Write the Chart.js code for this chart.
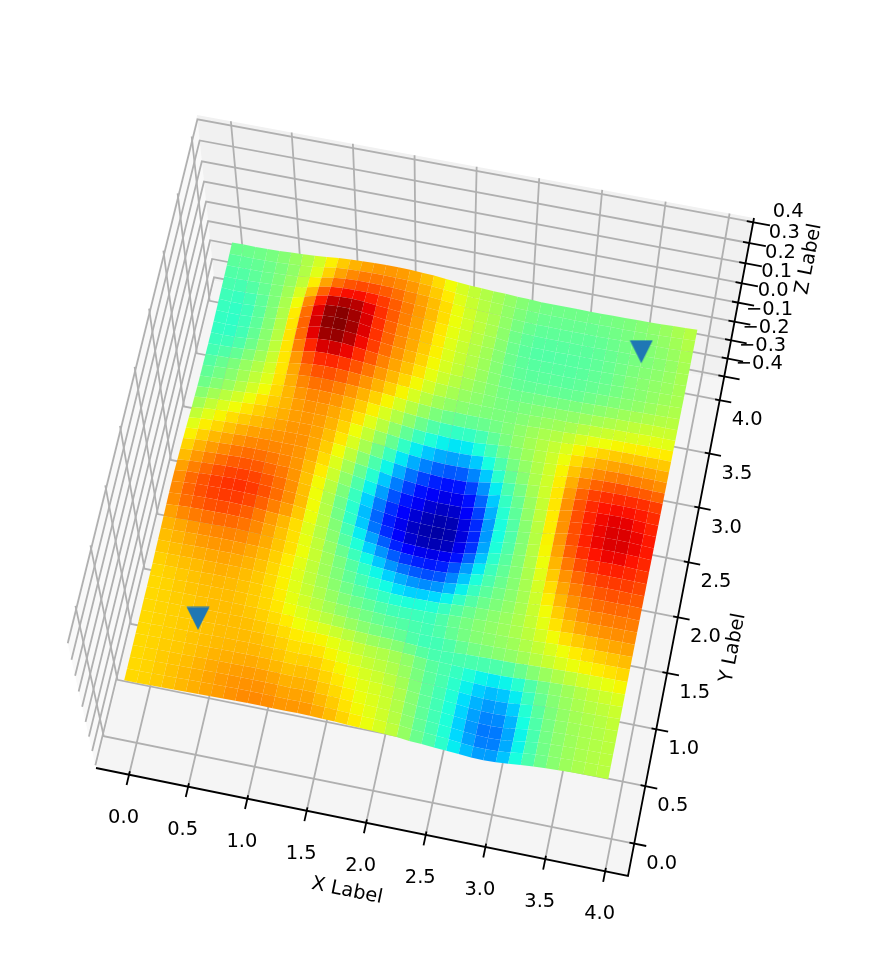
<!DOCTYPE html>
<html><head><meta charset="utf-8">
<style>html,body{margin:0;padding:0;background:#fff}canvas{display:block}</style>
<script src="https://cdn.jsdelivr.net/npm/chart.js@4"></script>
</head><body><canvas id="c" width="880" height="956"></canvas>
<script>
// --- data ---
const xTicks=[0,0.5,1,1.5,2,2.5,3,3.5,4];
const yTicks=[0,0.5,1,1.5,2,2.5,3,3.5,4];
const zTicks=[-0.4,-0.3,-0.2,-0.1,0,0.1,0.2,0.3,0.4];
const gridStep=0.1;
const markerX=[3.485,0.445];
const markerY=[3.635,0.655];
// surface level (0 = bottom of colour range, 100 = top), rows y=0..3.9, columns x=0..3.9
const zLevels=[
[68,68,69,70,71,72,73,74,75,76,77,77,76,75,76,75,73,71,68,65,63,60,57,50,47,43,39,35,31,29,31,36,42,47,50,53,55,56,57,57],
[68,68,69,70,71,72,73,74,75,76,76,76,75,74,75,73,71,69,66,64,62,59,56,49,46,42,37,32,27,25,27,33,41,47,50,53,55,56,57,58],
[68,68,69,70,71,72,73,74,75,75,75,75,74,72,74,72,70,68,65,63,61,58,55,48,45,41,36,30,25,23,25,32,40,47,51,53,55,56,57,58],
[68,68,69,70,70,71,72,73,73,74,74,73,72,71,72,70,68,66,64,62,61,58,55,48,45,41,36,30,25,24,26,33,41,47,51,53,55,56,57,58],
[68,68,69,69,70,71,71,72,72,72,72,71,70,69,71,69,67,65,63,61,60,57,54,48,45,41,36,31,27,26,28,34,42,48,51,54,55,56,57,59],
[68,68,69,69,70,70,71,71,71,72,71,70,69,67,69,67,65,63,61,59,58,55,53,47,45,42,37,33,29,29,31,37,44,49,52,54,56,57,58,60],
[68,68,69,69,70,70,71,71,71,71,70,69,68,66,67,65,63,61,59,57,57,54,52,47,45,43,39,36,33,33,35,40,46,50,53,55,57,58,59,61],
[68,68,69,69,70,71,71,71,71,70,69,68,66,64,65,63,61,59,57,56,55,53,51,46,45,43,41,39,38,38,40,44,48,51,53,56,58,60,62,64],
[68,68,69,70,70,71,71,71,70,69,68,66,64,62,60,58,56,54,52,50,49,47,43,42,42,44,47,48,50,51,52,55,57,59,61,63,64,65,66,67],
[68,68,69,70,71,71,71,71,70,69,67,65,62,60,57,55,53,51,49,48,47,45,43,43,45,47,50,51,52,53,54,57,59,62,64,66,67,68,69,70],
[68,69,70,70,71,72,72,71,70,69,67,64,61,58,55,53,50,49,47,45,44,44,43,43,47,49,51,52,53,54,56,58,61,64,66,68,70,71,72,73],
[69,70,71,72,72,73,73,72,71,69,67,64,60,57,54,51,48,46,44,42,41,41,41,42,46,48,50,52,53,55,57,60,64,68,71,73,74,75,75,75],
[70,71,72,73,74,74,74,73,72,70,67,64,60,56,53,49,46,43,41,38,36,36,37,37,42,45,48,50,52,54,57,61,66,70,73,75,76,77,77,77],
[71,72,73,75,76,76,76,75,73,71,68,65,61,56,52,48,44,40,37,33,31,29,30,31,36,41,46,48,51,53,57,62,68,73,76,78,79,79,79,78],
[72,73,75,76,77,78,78,77,75,72,69,67,62,57,52,47,42,37,33,29,26,23,23,25,31,37,43,47,50,53,57,63,70,75,78,80,81,81,81,80],
[73,78,80,81,82,82,81,79,75,72,69,64,59,55,49,43,37,32,26,21,19,17,17,19,27,33,41,45,49,53,58,65,72,77,81,83,84,84,83,82],
[74,79,81,83,84,84,83,81,77,74,71,66,59,55,48,41,34,28,22,17,14,12,13,14,22,29,39,44,49,53,59,67,74,79,83,85,86,86,85,84],
[74,79,82,84,86,86,86,84,81,78,74,68,61,54,46,38,30,22,15,9,7,5,6,7,14,23,36,42,48,54,60,69,77,83,87,89,90,89,87,85],
[73,78,80,83,85,86,86,84,81,78,74,68,60,52,44,35,26,18,12,7,5,3,4,5,12,21,35,41,48,54,60,70,79,85,89,91,92,91,89,87],
[70,75,77,80,82,83,83,82,80,78,73,68,60,53,45,36,27,19,12,7,5,3,3,4,11,20,34,41,48,54,60,71,80,86,90,92,93,92,90,88],
[68,72,75,77,79,81,81,80,78,77,73,68,62,55,47,39,30,22,15,10,7,5,5,6,13,22,35,42,49,55,61,71,80,85,89,91,92,91,89,87],
[65,69,72,74,76,78,78,78,77,76,74,70,64,57,50,42,34,26,19,14,10,7,7,8,16,25,37,44,50,56,61,71,80,86,89,91,91,90,88,86],
[62,66,69,71,73,75,76,76,76,76,75,71,66,60,53,45,38,30,24,18,14,11,11,12,20,28,39,45,51,57,62,72,79,84,87,88,88,88,87,85],
[58,63,65,68,70,72,73,74,75,76,75,72,68,63,57,50,43,36,29,24,20,17,17,18,26,33,43,48,53,58,62,70,77,82,84,85,85,85,84,82],
[54,59,62,65,67,69,71,72,74,75,75,73,70,65,60,54,48,41,35,30,27,25,25,26,32,38,46,50,54,58,62,69,74,77,79,80,80,79,78,77],
[51,55,58,61,64,67,69,71,73,75,75,74,71,68,63,58,53,47,41,37,34,32,32,33,38,43,49,52,55,58,62,67,71,74,75,76,76,76,75,74],
[48,52,54,57,60,64,67,70,73,76,76,75,73,70,66,62,57,52,47,43,41,38,38,39,43,47,51,53,56,58,61,65,68,70,71,72,72,72,72,71],
[46,48,50,53,57,61,65,70,74,77,78,77,75,72,69,65,61,57,53,49,46,44,44,44,47,49,52,54,56,57,59,62,64,66,67,68,68,68,68,68],
[45,48,50,53,56,59,63,70,76,80,81,80,78,75,72,69,65,61,57,54,51,51,50,50,50,50,51,52,54,55,56,58,60,61,62,63,63,64,64,64],
[43,45,47,50,54,57,63,70,77,83,85,84,82,79,75,72,69,65,61,57,55,53,52,51,50,50,50,51,52,53,53,54,56,57,58,59,60,61,61,61],
[42,43,44,47,51,55,62,71,81,88,90,89,86,82,78,74,71,68,64,60,57,55,53,52,50,49,49,50,50,51,51,52,53,54,55,56,57,58,58,58],
[42,41,42,45,50,54,61,73,85,94,97,96,91,86,81,76,73,70,66,62,59,57,54,52,50,48,47,48,48,48,48,49,50,51,52,53,54,55,56,57],
[42,40,41,44,49,53,60,74,88,98,100,99,95,88,83,78,74,71,67,63,60,58,55,53,49,47,46,46,46,46,46,47,48,49,50,51,52,54,55,56],
[42,41,41,44,48,53,60,73,87,97,100,99,95,89,83,78,75,72,68,64,60,58,55,53,49,47,46,46,46,46,46,47,47,48,50,51,52,53,54,56],
[43,41,41,44,48,53,59,72,86,96,99,99,95,89,83,79,75,72,68,64,61,58,56,54,49,47,45,45,45,45,45,46,47,48,50,51,52,53,54,56],
[44,42,43,45,48,52,58,68,80,89,93,94,92,88,84,80,76,73,69,65,62,59,56,54,49,47,45,45,45,46,46,46,47,48,49,50,51,52,54,56],
[45,44,45,47,49,52,56,63,73,81,85,86,86,85,82,79,76,73,70,66,62,59,57,55,50,48,46,46,46,46,46,46,47,48,49,50,51,52,54,56],
[45,45,46,47,49,51,54,60,67,74,78,80,81,80,79,77,75,72,69,65,61,58,56,54,51,49,47,47,47,47,47,47,48,49,50,51,52,53,55,57],
[47,47,47,48,49,51,54,58,64,70,73,75,76,76,76,75,73,70,67,63,60,58,56,54,51,50,49,48,48,48,48,48,49,49,50,51,52,54,56,58],
[48,49,49,50,51,53,55,58,62,66,69,71,73,74,74,73,71,69,65,62,59,57,55,54,52,51,49,49,49,49,49,49,50,50,51,52,53,55,56,58]
];
const axisNames=["X Label","Y Label","Z Label"];

// --- projection of the 3D box on to the page ---
const lim={lo:-0.28,hi:4.19,zlo:-0.42,zhi:0.42};
const zRange=0.063; // height of level 0/100 above the middle plane
function quad(p0,p1,p2,p3){
  const dx1=p1[0]-p2[0],dx2=p3[0]-p2[0],sx=p0[0]-p1[0]+p2[0]-p3[0];
  const dy1=p1[1]-p2[1],dy2=p3[1]-p2[1],sy=p0[1]-p1[1]+p2[1]-p3[1];
  const den=dx1*dy2-dx2*dy1;
  const g=(sx*dy2-dx2*sy)/den,h=(dx1*sy-sx*dy1)/den;
  const a=p1[0]-p0[0]+g*p1[0],b=p3[0]-p0[0]+h*p3[0],c=p0[0];
  const d=p1[1]-p0[1]+g*p1[1],e=p3[1]-p0[1]+h*p3[1],f=p0[1];
  return (u,v)=>{const w=g*u+h*v+1;return {x:(a*u+b*v+c)/w,y:(d*u+e*v+f)/w};};
}
const C={nl:[96,768],nr:[628,876],fr:[723.6,380],fl:[214.4,281],tfr:[754,218],tfl:[197,115],tnl:[67,640]};
const floorQ=quad(C.nl,C.nr,C.fr,C.fl);
const leftQ=quad(C.nl,C.fl,C.tfl,C.tnl);
const backQ=quad(C.fl,C.fr,C.tfr,C.tfl);
const surfQ=quad([125,684.3],[608,780.7],[697,332],[232,242]);
const fx=v=>(v-lim.lo)/(lim.hi-lim.lo);
const fz=v=>(v-lim.zlo)/(lim.zhi-lim.zlo);
const floorPt=(x,y)=>floorQ(fx(x),fx(y));
const leftPt=(y,z)=>leftQ(fx(y),fz(z));
const backPt=(x,z)=>backQ(fx(x),fz(z));
const span=gridStep*(zLevels.length-1);
function surfPt(x,y,level){
  const p=surfQ(x/span,y/span);
  const k=((level-50)/50*zRange)*0.127;
  return {x:p.x+(p.x-401)*k,y:p.y+(p.y-2082)*k};
}
function jet(t){
  const seg=(pts)=>{for(let i=1;i<pts.length;i++){if(t<=pts[i][0]){const a=pts[i-1],b=pts[i];return a[1]+(b[1]-a[1])*(t-a[0])/(b[0]-a[0]);}}return pts[pts.length-1][1];};
  const r=seg([[0,0],[.35,0],[.66,1],[.89,1],[1,.5]]);
  const g=seg([[0,0],[.125,0],[.375,1],[.64,1],[.91,0],[1,0]]);
  const b=seg([[0,.5],[.11,1],[.34,1],[.65,0],[1,0]]);
  return `rgb(${Math.round(r*255)},${Math.round(g*255)},${Math.round(b*255)})`;
}

// --- datasets ---
const ds=[];
const TR='rgba(0,0,0,0)';
function shape(pts,color){ds.push({type:'scatter',showLine:true,data:pts,fill:'shape',backgroundColor:color,borderColor:TR,borderWidth:0,pointRadius:0,tension:0});}
function line(pts,color,w){ds.push({type:'scatter',showLine:true,data:pts,fill:false,borderColor:color,backgroundColor:TR,borderWidth:w,pointRadius:0,tension:0});}
const P=a=>({x:a[0],y:a[1]});
shape([C.nl,C.fl,C.tfl,C.tnl,C.nl].map(P),'#f9f9f9');
shape([C.fl,C.fr,C.tfr,C.tfl,C.fl].map(P),'#f1f1f1');
shape([C.nl,C.nr,C.fr,C.fl,C.nl].map(P),'#f5f5f5');
const GRID='#b0b0b0',GW=1.8;
xTicks.forEach(v=>line([floorPt(v,lim.lo),floorPt(v,lim.hi),backPt(v,lim.zhi)],GRID,GW));
yTicks.forEach(v=>line([floorPt(lim.hi,v),floorPt(lim.lo,v),leftPt(v,lim.zhi)],GRID,GW));
zTicks.forEach(v=>line([leftPt(lim.lo,v),leftPt(lim.hi,v),backPt(lim.hi,v)],GRID,GW));
// axes and ticks
line([C.nl,C.nr,C.fr,C.tfr].map(P),'#000',1.8);
xTicks.forEach(v=>line([floorPt(v,lim.lo+0.03),floorPt(v,lim.lo-0.09)],'#000',1.8));
yTicks.forEach(v=>line([floorPt(lim.hi-0.04,v),floorPt(lim.hi+0.10,v)],'#000',1.8));
zTicks.forEach(v=>line([backPt(lim.hi-0.05,v),backPt(lim.hi+0.13,v)],'#000',1.8));
// surface, far cells first
for(let j=zLevels.length-2;j>=0;j--){
  for(let i=0;i<zLevels[j].length-1;i++){
    const a=zLevels[j][i],b=zLevels[j][i+1],c=zLevels[j+1][i+1],d=zLevels[j+1][i];
    const x0=i*gridStep,x1=(i+1)*gridStep,y0=j*gridStep,y1=(j+1)*gridStep;
    const p=surfPt(x0,y0,a);
    shape([p,surfPt(x1,y0,b),surfPt(x1,y1,c),surfPt(x0,y1,d),p],jet((a+b+c+d)/400));
  }
}
// triangle markers
const tri=document.createElement('canvas');tri.width=24;tri.height=24;
{const t=tri.getContext('2d');t.fillStyle='#1f77b4';t.beginPath();t.moveTo(0.5,0.5);t.lineTo(23.5,0.5);t.lineTo(12,23.5);t.closePath();t.fill();}
ds.push({type:'scatter',data:markerX.map((x,i)=>surfPt(x,markerY[i],50)),pointStyle:tri,pointRadius:12,backgroundColor:'#1f77b4',borderColor:'#1f77b4'});
ds.forEach((d,i)=>{d.order=ds.length-i;});

// --- tick text ---
const fmt=v=>(v<0?'\u2212':'')+Math.abs(v).toFixed(1);
const textPlugin={id:'axisText',afterDraw(chart){
  const c=chart.ctx,X=chart.scales.x,Y=chart.scales.y;
  const put=(s,p,dx,dy,rot)=>{c.save();c.translate(X.getPixelForValue(p.x)+dx,Y.getPixelForValue(p.y)+dy);if(rot)c.rotate(rot*Math.PI/180);c.fillText(s,0,0);c.restore();};
  c.save();c.font='19.44px "DejaVu Sans"';c.fillStyle='#000';c.textAlign='center';c.textBaseline='middle';
  xTicks.forEach(v=>put(fmt(v),floorPt(v,lim.lo),-5.5,43));
  yTicks.forEach(v=>put(fmt(v),floorPt(lim.hi,v),27.5,20));
  zTicks.forEach(v=>put(fmt(v),backPt(lim.hi,v),35,-11.5+v*3.5));
  put(axisNames[0],{x:347,y:891},0,0,11.5);
  put(axisNames[1],{x:733,y:648},0,0,-79);
  put(axisNames[2],{x:809,y:259},0,0,-79);
  c.restore();
}};

new Chart(document.getElementById('c'),{
  type:'scatter',
  data:{datasets:ds},
  options:{responsive:false,animation:false,events:[],layout:{padding:0,autoPadding:false},
    plugins:{legend:{display:false},tooltip:{enabled:false},title:{display:false}},
    scales:{x:{type:'linear',min:0,max:880,display:false},y:{type:'linear',min:0,max:956,reverse:true,display:false}}},
  plugins:[textPlugin]
});
</script></body></html>
